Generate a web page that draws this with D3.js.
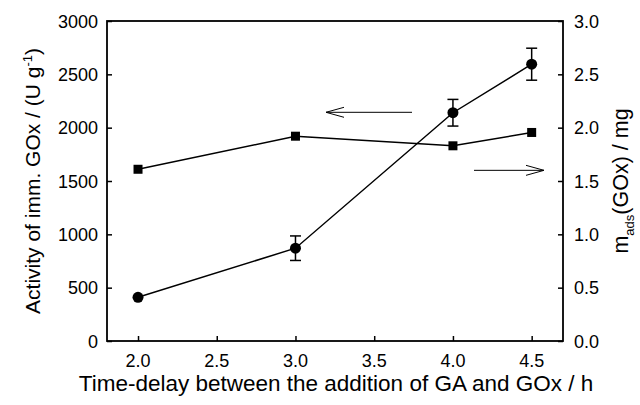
<!DOCTYPE html>
<html>
<head>
<meta charset="utf-8">
<script src="https://cdn.jsdelivr.net/npm/d3@7"></script>
<style>
  body { margin: 0; background: #fff; }
  svg text { font-family: "Liberation Sans", Arial, sans-serif; fill: #000; }
</style>
</head>
<body>
<svg id="chart" width="640" height="405"></svg>
<script>
// time delay (h)
const delays = [2.0, 3.0, 4.0, 4.5];
// activity of immobilised GOx (U/g) with error
const activity = [410, 870, 2140, 2595];
const activityErr = [0, 115, 125, 150];
// adsorbed GOx mass (mg)
const massAds = [1.61, 1.92, 1.83, 1.955];

const xTicks = [2.0, 2.5, 3.0, 3.5, 4.0, 4.5];
const yLeftTicks = [0, 500, 1000, 1500, 2000, 2500, 3000];
const yRightTicks = [0, 0.5, 1.0, 1.5, 2.0, 2.5, 3.0];

const m = { left: 107, right: 563, top: 21, bottom: 341 };
const svg = d3.select('#chart');

const x = d3.scaleLinear().domain([1.803, 4.699]).range([m.left, m.right]);
const yL = d3.scaleLinear().domain([0, 3000]).range([m.bottom, m.top]);
const yR = d3.scaleLinear().domain([0, 3.0]).range([m.bottom, m.top]);

// frame
svg.append('rect')
  .attr('x', m.left).attr('y', m.top)
  .attr('width', m.right - m.left).attr('height', m.bottom - m.top)
  .attr('fill', 'none').attr('stroke', '#000').attr('stroke-width', 1.8);

// axes with inward ticks
const xAxis = svg.append('g').attr('transform', `translate(0,${m.bottom})`)
  .call(d3.axisTop(x).tickValues(xTicks).tickSize(5).tickFormat(''));
const yAxisL = svg.append('g').attr('transform', `translate(${m.left},0)`)
  .call(d3.axisRight(yL).tickValues(yLeftTicks).tickSize(5).tickFormat(''));
const yAxisR = svg.append('g').attr('transform', `translate(${m.right},0)`)
  .call(d3.axisLeft(yR).tickValues(yRightTicks).tickSize(5).tickFormat(''));
[xAxis, yAxisL, yAxisR].forEach(g => {
  g.select('.domain').remove();
  g.selectAll('line').attr('stroke', '#000').attr('stroke-width', 1.5);
});

// tick labels
svg.selectAll('.xl').data(xTicks).enter().append('text')
  .attr('x', d => x(d)).attr('y', 367)
  .attr('text-anchor', 'middle').attr('font-size', 18)
  .text(d => d.toFixed(1));
svg.selectAll('.yll').data(yLeftTicks).enter().append('text')
  .attr('x', 98).attr('y', d => yL(d) + 6.5)
  .attr('text-anchor', 'end').attr('font-size', 18)
  .text(d => d);
svg.selectAll('.yrl').data(yRightTicks).enter().append('text')
  .attr('x', 574).attr('y', d => yR(d) + 6.5)
  .attr('text-anchor', 'start').attr('font-size', 18)
  .text(d => d.toFixed(1));

// axis titles
svg.append('text')
  .attr('x', 336).attr('y', 391)
  .attr('text-anchor', 'middle').attr('font-size', 22.5)
  .text('Time-delay between the addition of GA and GOx / h');

const tl = svg.append('text')
  .attr('transform', `translate(40,${(m.top + m.bottom) / 2}) rotate(-90)`)
  .attr('text-anchor', 'middle').attr('font-size', 21);
tl.append('tspan').text('Activity of imm. GOx / (U g');
tl.append('tspan').attr('font-size', 13).attr('dy', -8).text('-1');
tl.append('tspan').attr('dy', 8).text(')');

const tr = svg.append('text')
  .attr('transform', `translate(628,${(m.top + m.bottom) / 2}) rotate(-90)`)
  .attr('text-anchor', 'middle').attr('font-size', 21.5);
tr.append('tspan').text('m');
tr.append('tspan').attr('font-size', 13).attr('dy', 6).text('ads');
tr.append('tspan').attr('dy', -6).text('(GOx) / mg');

// activity series
svg.append('path')
  .attr('d', d3.line().x((d, i) => x(delays[i])).y(d => yL(d))(activity))
  .attr('fill', 'none').attr('stroke', '#000').attr('stroke-width', 1.5);
delays.forEach((t, i) => {
  if (activityErr[i] > 0) {
    const g = svg.append('g').attr('stroke', '#000').attr('stroke-width', 1.5);
    const top = yL(activity[i] + activityErr[i]), bot = yL(activity[i] - activityErr[i]);
    g.append('line').attr('x1', x(t)).attr('x2', x(t)).attr('y1', top).attr('y2', bot);
    g.append('line').attr('x1', x(t) - 5.5).attr('x2', x(t) + 5.5).attr('y1', top).attr('y2', top);
    g.append('line').attr('x1', x(t) - 5.5).attr('x2', x(t) + 5.5).attr('y1', bot).attr('y2', bot);
  }
});
svg.selectAll('.dot').data(activity).enter().append('circle')
  .attr('cx', (d, i) => x(delays[i])).attr('cy', d => yL(d))
  .attr('r', 5.5).attr('fill', '#000');

// adsorbed mass series
svg.append('path')
  .attr('d', d3.line().x((d, i) => x(delays[i])).y(d => yR(d))(massAds))
  .attr('fill', 'none').attr('stroke', '#000').attr('stroke-width', 1.5);
svg.selectAll('.sq').data(massAds).enter().append('rect')
  .attr('x', (d, i) => x(delays[i]) - 4.5).attr('y', d => yR(d) - 4.5)
  .attr('width', 9).attr('height', 9).attr('fill', '#000');

// arrows pointing to the relevant axes
function arrow(x1, x2, y, dir) {
  const g = svg.append('g').attr('stroke', '#000').attr('stroke-width', 1).attr('fill', 'none');
  g.append('line').attr('x1', x1).attr('x2', x2).attr('y1', y).attr('y2', y);
  const tip = dir < 0 ? x1 : x2;
  g.append('path').attr('d', `M${tip - dir * 18},${y - 5}L${tip},${y}L${tip - dir * 18},${y + 5}`);
}
arrow(326, 412, yL(2144), -1);
arrow(474, 544, yR(1.6), 1);
</script>
</body>
</html>
